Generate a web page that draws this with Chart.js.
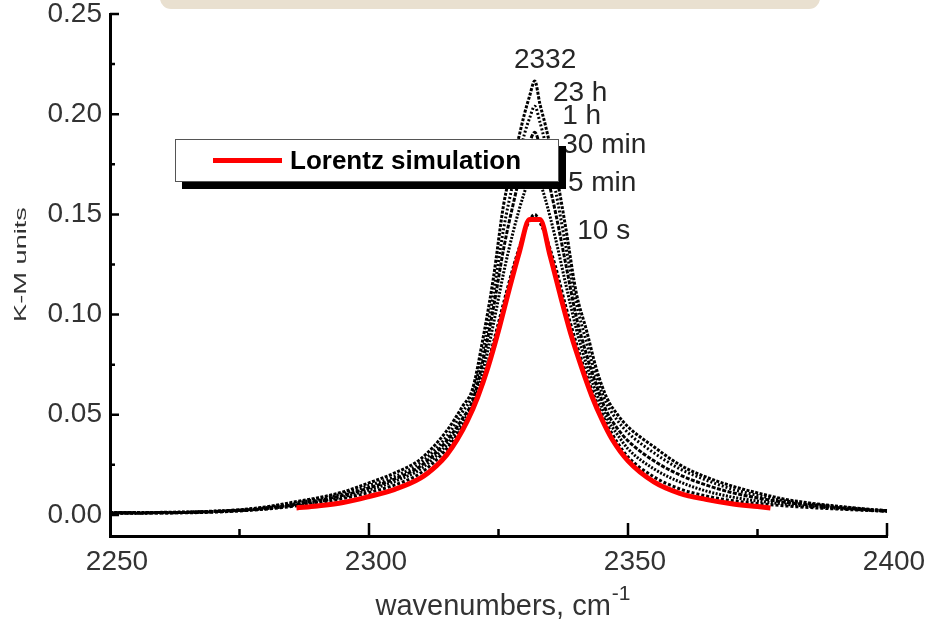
<!DOCTYPE html>
<html>
<head>
<meta charset="utf-8">
<script src="https://cdn.jsdelivr.net/npm/chart.js@4/dist/chart.umd.min.js"></script>
<style>
  html, body { margin: 0; padding: 0; background: #fff; }
  #wrap { position: relative; width: 928px; height: 622px; overflow: hidden; background: #fff; }
  #tab { position: absolute; left: 160px; top: -4px; width: 660px; height: 13px;
         background: #e9e0d0; border-radius: 0 0 11px 11px; }
  #c { position: absolute; left: 0; top: 0; }
  #legend { position: absolute; left: 175px; top: 139px; width: 384px; height: 43px;
            box-sizing: border-box; background: #fff; border: 1.5px solid #555;
            box-shadow: 7px 7px 0 0 #000; display: flex; align-items: center;
            font: bold 26px "Liberation Sans", Arial, sans-serif; color: #000; }
  #legend .sw { display: inline-block; width: 69px; height: 5px; margin-left: 37px; margin-right: 8px; }
</style>
</head>
<body>
<div id="wrap">
  <div id="tab"></div>
  <canvas id="c" width="928" height="622"></canvas>
  <div id="legend"></div>
</div>
<script>
// Wavenumber grid (cm-1) shared by the measured spectra
const specWn = [2250, 2255, 2260, 2265, 2270, 2275, 2280, 2285, 2290, 2295, 2300, 2305, 2310, 2315,
  2318, 2320, 2322, 2324, 2326, 2328, 2330, 2331, 2332, 2333, 2334, 2336, 2338, 2340, 2342, 2344,
  2346, 2348, 2350, 2355, 2360, 2365, 2370, 2375, 2380, 2385, 2390, 2395, 2400, 2402];

// Kubelka-Munk intensity of the measured spectra after each exposure time
const km23h = [0.0012, 0.0012, 0.0013, 0.0015, 0.0019, 0.0026, 0.0040, 0.0062, 0.0085, 0.0115, 0.0160,
  0.0210, 0.0280, 0.0420, 0.0540, 0.0630, 0.0880, 0.1180, 0.1550, 0.1780, 0.2000, 0.2090, 0.2166,
  0.2050, 0.1950, 0.1720, 0.1430, 0.1110, 0.0920, 0.0720, 0.0580, 0.0500, 0.0440, 0.0340, 0.0250,
  0.0190, 0.0145, 0.0110, 0.0080, 0.0060, 0.0045, 0.0032, 0.0022, 0.0020];
const km1h = [0.0011, 0.0011, 0.0012, 0.0014, 0.0018, 0.0024, 0.0036, 0.0056, 0.0079, 0.0106, 0.0147,
  0.0192, 0.0262, 0.0392, 0.0512, 0.0602, 0.0820, 0.1100, 0.1430, 0.1680, 0.1900, 0.1980, 0.2040,
  0.1960, 0.1860, 0.1620, 0.1340, 0.1060, 0.0860, 0.0680, 0.0550, 0.0470, 0.0410, 0.0310, 0.0230,
  0.0175, 0.0130, 0.0098, 0.0072, 0.0055, 0.0042, 0.0030, 0.0021, 0.0019];
const km30min = [0.0010, 0.0010, 0.0011, 0.0013, 0.0017, 0.0023, 0.0033, 0.0050, 0.0072, 0.0098, 0.0135,
  0.0180, 0.0245, 0.0370, 0.0480, 0.0570, 0.0770, 0.1030, 0.1330, 0.1570, 0.1780, 0.1860, 0.1910,
  0.1840, 0.1740, 0.1510, 0.1250, 0.0990, 0.0800, 0.0640, 0.0510, 0.0430, 0.0370, 0.0270, 0.0200,
  0.0150, 0.0112, 0.0085, 0.0064, 0.0050, 0.0038, 0.0028, 0.0020, 0.0018];
const km5min = [0.0010, 0.0010, 0.0011, 0.0012, 0.0016, 0.0022, 0.0031, 0.0046, 0.0066, 0.0090, 0.0125,
  0.0168, 0.0230, 0.0350, 0.0460, 0.0550, 0.0720, 0.0950, 0.1210, 0.1430, 0.1610, 0.1680, 0.1720,
  0.1660, 0.1580, 0.1380, 0.1150, 0.0930, 0.0750, 0.0600, 0.0480, 0.0400, 0.0330, 0.0230, 0.0165,
  0.0120, 0.0090, 0.0070, 0.0055, 0.0043, 0.0034, 0.0026, 0.0019, 0.0017];
const km10s = [0.0009, 0.0009, 0.0010, 0.0011, 0.0014, 0.0020, 0.0029, 0.0042, 0.0060, 0.0082, 0.0112,
  0.0150, 0.0210, 0.0330, 0.0440, 0.0530, 0.0670, 0.0860, 0.1060, 0.1250, 0.1410, 0.1470, 0.1500,
  0.1460, 0.1400, 0.1240, 0.1040, 0.0860, 0.0700, 0.0560, 0.0450, 0.0360, 0.0290, 0.0190, 0.0130,
  0.0095, 0.0072, 0.0057, 0.0046, 0.0037, 0.0030, 0.0024, 0.0018, 0.0016];

// Lorentz line-shape simulation
const lorentzWn = [2286, 2290, 2295, 2300, 2305, 2310, 2313, 2315, 2317, 2319, 2321, 2323, 2325, 2327,
  2329, 2331, 2333, 2335, 2337, 2339, 2341, 2343, 2345, 2347, 2350, 2355, 2360, 2365, 2370, 2375, 2377.5];
const lorentzKm = [0.0035, 0.0045, 0.0062, 0.0092, 0.0128, 0.0185, 0.0245, 0.0300, 0.0375, 0.0470, 0.0590,
  0.0740, 0.0920, 0.1120, 0.1310, 0.1474, 0.1474, 0.1290, 0.1090, 0.0900, 0.0740, 0.0595, 0.0475,
  0.0375, 0.0270, 0.0165, 0.0108, 0.0078, 0.0056, 0.0042, 0.0035];

// Axis ticks
const xTickLabels = [2250, 2300, 2350, 2400];
const xMajorMarks = [2300, 2350, 2400];
const xMinorMarks = [2275, 2325, 2375];
const yTickLabels = [0, 0.05, 0.10, 0.15, 0.20, 0.25];
const yMinorMarks = [0.025, 0.075, 0.125, 0.175, 0.225];
const yBottom = -0.0105;

// Peak annotations, anchored in data units
const noteText = ['2332', '23 h', '1 h', '30 min', '5 min', '10 s'];
const noteWn   = [2334.0, 2335.5, 2337.3, 2337.3, 2338.4, 2340.2];
const noteKm   = [0.2270, 0.2106, 0.1989, 0.1846, 0.1657, 0.1417];
const noteAlign = ['center', 'left', 'left', 'left', 'left', 'left'];

const FONT = '"Liberation Sans", Arial, Helvetica, sans-serif';
const toPts = (xs, ys) => xs.map((x, i) => ({ x: x, y: ys[i] }));

const spectra = [
  { label: '23 h',   values: km23h,   dash: [3, 1.5] },
  { label: '1 h',    values: km1h,    dash: [2, 2] },
  { label: '30 min', values: km30min, dash: [4, 1.5] },
  { label: '5 min',  values: km5min,  dash: [2, 1.5] },
  { label: '10 s',   values: km10s,   dash: [3, 2] }
];

const datasets = [{
  label: 'Lorentz simulation',
  data: toPts(lorentzWn, lorentzKm),
  borderColor: '#ff0000',
  borderWidth: 5,
  cubicInterpolationMode: 'monotone',
  pointRadius: 0,
  order: 0,
  clip: false,
  inLegend: true
}].concat(spectra.map(s => ({
  label: s.label,
  data: toPts(specWn, s.values),
  borderColor: '#000',
  borderWidth: 3,
  borderDash: s.dash,
  cubicInterpolationMode: 'monotone',
  pointRadius: 0,
  order: 1,
  clip: false
})));

const axisDecor = {
  id: 'axisDecor',
  afterDraw(chart) {
    const { ctx, chartArea: a, scales: { x, y } } = chart;
    ctx.save();
    // inward tick marks
    ctx.strokeStyle = '#000';
    ctx.lineWidth = 2.5;
    ctx.beginPath();
    xMajorMarks.forEach(v => { const p = x.getPixelForValue(v); ctx.moveTo(p, a.bottom); ctx.lineTo(p, a.bottom - 13); });
    xMinorMarks.forEach(v => { const p = x.getPixelForValue(v); ctx.moveTo(p, a.bottom); ctx.lineTo(p, a.bottom - 7); });
    yTickLabels.forEach(v => { const p = y.getPixelForValue(v); ctx.moveTo(a.left, p); ctx.lineTo(a.left + 9, p); });
    yMinorMarks.forEach(v => { const p = y.getPixelForValue(v); ctx.moveTo(a.left, p); ctx.lineTo(a.left + 5, p); });
    ctx.stroke();

    // peak annotations
    ctx.fillStyle = '#262626';
    ctx.font = '28px ' + FONT;
    ctx.textBaseline = 'middle';
    noteText.forEach((t, i) => {
      ctx.textAlign = noteAlign[i];
      ctx.fillText(t, x.getPixelForValue(noteWn[i]), y.getPixelForValue(noteKm[i]));
    });

    // x axis title with superscript unit
    ctx.fillStyle = '#333';
    ctx.textAlign = 'left';
    ctx.textBaseline = 'alphabetic';
    ctx.font = '29px ' + FONT;
    const main = 'wavenumbers, cm';
    const w = ctx.measureText(main).width;
    ctx.font = '21px ' + FONT;
    const sw = ctx.measureText('-1').width;
    const x0 = (a.left + a.right) / 2 - (w + sw) / 2 + 4;
    ctx.font = '29px ' + FONT;
    ctx.fillText(main, x0, 615);
    ctx.font = '21px ' + FONT;
    ctx.fillText('-1', x0 + w + 1, 600);

    // y axis title
    ctx.translate(21, (a.top + y.getPixelForValue(0)) / 2);
    ctx.rotate(-Math.PI / 2);
    ctx.scale(1.6, 1);
    ctx.font = '17px ' + FONT;
    ctx.textAlign = 'center';
    ctx.textBaseline = 'middle';
    ctx.fillText('K-M units', 0, 0);
    ctx.restore();
  }
};

const tickFont = { family: FONT, size: 28 };

const chart = new Chart(document.getElementById('c'), {
  type: 'line',
  data: { datasets: datasets },
  options: {
    responsive: false,
    animation: false,
    devicePixelRatio: 1,
    layout: { padding: { top: 14, right: 41, left: 0, bottom: 0 } },
    plugins: { legend: { display: false }, tooltip: { enabled: false } },
    scales: {
      x: {
        type: 'linear', min: 2250, max: 2400,
        afterBuildTicks: s => { s.ticks = xTickLabels.map(v => ({ value: v })); },
        afterFit: s => { s.height = 86; s.paddingLeft = 0; s.paddingRight = 0; },
        grid: { display: true, drawOnChartArea: false, drawTicks: false },
        border: { display: true, color: '#000', width: 3 },
        ticks: { font: tickFont, color: '#333', padding: 9, labelOffset: 7, maxRotation: 0, autoSkip: false,
                 callback: v => String(v) }
      },
      y: {
        type: 'linear', min: yBottom, max: 0.25,
        afterBuildTicks: s => { s.ticks = yTickLabels.map(v => ({ value: v })); },
        afterFit: s => { s.width = 110; s.paddingTop = 0; s.paddingBottom = 0; },
        grid: { display: true, drawOnChartArea: false, drawTicks: false },
        border: { display: true, color: '#000', width: 3 },
        ticks: { font: tickFont, color: '#333', padding: 8, autoSkip: false,
                 callback: v => Number(v).toFixed(2) }
      }
    }
  },
  plugins: [axisDecor]
});

// HTML legend built from the chart's own dataset entries
const legendEl = document.getElementById('legend');
chart.data.datasets.filter(d => d.inLegend).forEach(d => {
  const sw = document.createElement('span');
  sw.className = 'sw';
  sw.style.background = d.borderColor;
  const tx = document.createElement('span');
  tx.textContent = d.label;
  legendEl.appendChild(sw);
  legendEl.appendChild(tx);
});
</script>
</body>
</html>
